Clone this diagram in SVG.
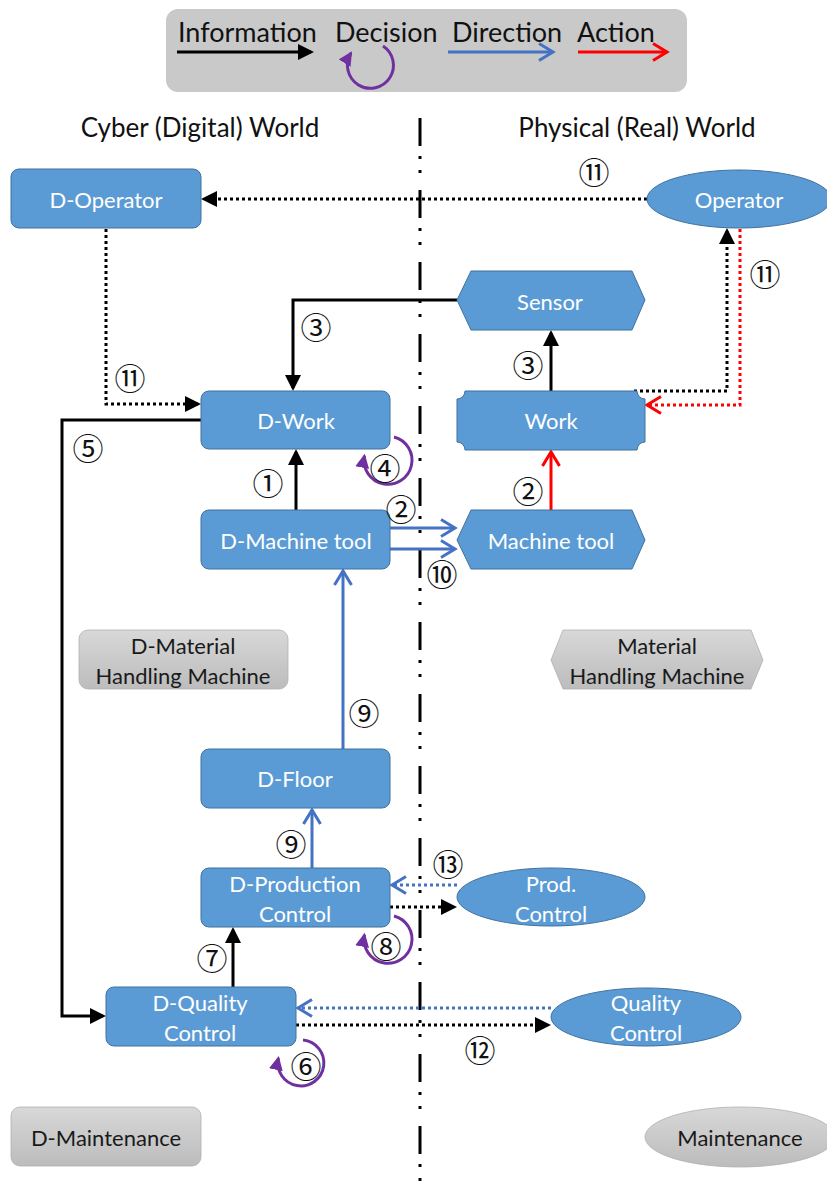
<svg xmlns="http://www.w3.org/2000/svg" width="827" height="1198" viewBox="0 0 827 1198">
  <style>
    .node { fill: #5B9BD5; stroke: #41719C; stroke-width: 1; }
    .gray { fill: url(#grayFill); stroke: #b0b0b0; stroke-width: 0.8; }
    .lbl { font-family: Lato, "Open Sans", sans-serif; font-size: 22px; fill: #ffffff; text-anchor: middle; dominant-baseline: central; }
    .lblk { font-family: Lato, "Open Sans", sans-serif; font-size: 22px; fill: #1a1a1a; text-anchor: middle; dominant-baseline: central; }
    .head { font-family: Lato, "Open Sans", sans-serif; font-size: 26px; fill: #111111; text-anchor: middle; }
    .leg { font-family: Lato, "Open Sans", sans-serif; font-size: 27px; fill: #111111; }
    .num { font-family: "Noto Sans CJK JP", "DejaVu Sans", sans-serif; font-size: 31px; fill: #111111; text-anchor: middle; dominant-baseline: central; }
    .info { fill: none; stroke: #000000; stroke-width: 3; }
    .infoDot { fill: none; stroke: #000000; stroke-width: 3; stroke-dasharray: 3 3; }
    .dir { fill: none; stroke: #4472C4; stroke-width: 3; }
    .dirDot { fill: none; stroke: #4472C4; stroke-width: 3; stroke-dasharray: 3 3; }
    .act { fill: none; stroke: #FF0000; stroke-width: 3; }
    .actDot { fill: none; stroke: #FF0000; stroke-width: 3; stroke-dasharray: 3 3; }
    .dec { fill: none; stroke: #7030A0; stroke-width: 3; }
  </style>
  <defs>
    <linearGradient id="grayFill" x1="0" y1="0" x2="0" y2="1">
      <stop offset="0" stop-color="#d8d8d8"/>
      <stop offset="1" stop-color="#bcbcbc"/>
    </linearGradient>
    <!-- filled head: tip sits 3px beyond the path end -->
    <marker id="headInfo" markerUnits="userSpaceOnUse" markerWidth="18" markerHeight="18" refX="13" refY="8" orient="auto">
      <path d="M0,0 L16,8 L0,16 Z" fill="#000000"/>
    </marker>
    <marker id="headDir" markerUnits="userSpaceOnUse" markerWidth="20" markerHeight="22" refX="16" refY="10" orient="auto">
      <path d="M2,1.5 L16,10 L2,18.5" fill="none" stroke="#4472C4" stroke-width="3"/>
    </marker>
    <marker id="headAct" markerUnits="userSpaceOnUse" markerWidth="20" markerHeight="22" refX="16" refY="10" orient="auto">
      <path d="M2,1.5 L16,10 L2,18.5" fill="none" stroke="#FF0000" stroke-width="3"/>
    </marker>
    <marker id="headDec" markerUnits="userSpaceOnUse" markerWidth="16" markerHeight="16" refX="12" refY="7" orient="auto">
      <path d="M0,0 L14,7 L0,14 Z" fill="#7030A0"/>
    </marker>
  </defs>

  <rect width="827" height="1198" fill="#ffffff"/>

  <!-- legend -->
  <g id="legend">
    <rect x="166" y="9" width="521" height="83" rx="12" fill="#c9c9c9"/>
    <text class="leg" x="178" y="42">Information</text>
    <path class="info" d="M177,52 H311" marker-end="url(#headInfo)"/>
    <text class="leg" x="335" y="42">Decision</text>
    <path class="dec" d="M383,46 A23,23 0 1 1 351,53" marker-end="url(#headDec)"/>
    <text class="leg" x="452" y="42">Direction</text>
    <path class="dir" d="M448,52 H553" marker-end="url(#headDir)"/>
    <text class="leg" x="577" y="42">Action</text>
    <path class="act" d="M578,52 H667" marker-end="url(#headAct)"/>
  </g>

  <!-- world headings and divider -->
  <g id="headings">
    <text class="head" x="200" y="137">Cyber (Digital) World</text>
    <text class="head" x="637" y="137">Physical (Real) World</text>
  </g>
  <path id="divider" d="M420,118 V1198" fill="none" stroke="#000000" stroke-width="3" stroke-dasharray="28 10 3 11 3 17"/>

  <!-- connectors -->
  <g id="connectors">
    <!-- 11: operator information -->
    <path class="infoDot" d="M647,199 H204" marker-end="url(#headInfo)"/>
    <path class="infoDot" d="M106,229 V404 H198" marker-end="url(#headInfo)"/>
    <path class="infoDot" d="M634,391 H727 V231" marker-end="url(#headInfo)"/>
    <path class="actDot" d="M740,229 V405 H647" marker-end="url(#headAct)"/>
    <!-- 3: sensing -->
    <path class="info" d="M457,300 H293 V388" marker-end="url(#headInfo)"/>
    <path class="info" d="M551,391 V333" marker-end="url(#headInfo)"/>
    <!-- 1 -->
    <path class="info" d="M296,510 V452" marker-end="url(#headInfo)"/>
    <!-- 5 -->
    <path class="info" d="M201,420 H62 V1016 H103" marker-end="url(#headInfo)"/>
    <!-- 2 and 10: machine tool direction -->
    <path class="dir" d="M390,528 H455" marker-end="url(#headDir)"/>
    <path class="dir" d="M390,549 H455" marker-end="url(#headDir)"/>
    <path class="act" d="M551,510 V452" marker-end="url(#headAct)"/>
    <!-- 9 -->
    <path class="dir" d="M343,749 V571" marker-end="url(#headDir)"/>
    <path class="dir" d="M312,868 V810" marker-end="url(#headDir)"/>
    <!-- 13 -->
    <path class="dirDot" d="M457,885 H392" marker-end="url(#headDir)"/>
    <path class="infoDot" d="M390,907 H454" marker-end="url(#headInfo)"/>
    <!-- 7 -->
    <path class="info" d="M233,987 V930" marker-end="url(#headInfo)"/>
    <!-- 12 -->
    <path class="dirDot" d="M551,1008 H298" marker-end="url(#headDir)"/>
    <path class="infoDot" d="M296,1025 H548" marker-end="url(#headInfo)"/>
  </g>

  <!-- nodes -->
  <g id="d-operator">
    <rect class="node" x="11" y="169" width="190" height="59" rx="8"/>
    <text class="lbl" x="106" y="199">D-Operator</text>
  </g>
  <g id="operator">
    <ellipse class="node" cx="739" cy="199" rx="92" ry="29"/>
    <text class="lbl" x="739" y="199">Operator</text>
  </g>
  <g id="sensor">
    <polygon class="node" points="457,300 471,271 632,271 645,300 632,330 471,330"/>
    <text class="lbl" x="550" y="301">Sensor</text>
  </g>
  <g id="d-work">
    <rect class="node" x="201" y="391" width="189" height="58" rx="8"/>
    <text class="lbl" x="296" y="420">D-Work</text>
  </g>
  <g id="work">
    <path class="node" d="M465,391 H637 A8,8 0 0 0 645,399 V442 A8,8 0 0 0 637,450 H465 A8,8 0 0 0 457,442 V399 A8,8 0 0 0 465,391 Z"/>
    <text class="lbl" x="551" y="420">Work</text>
  </g>
  <g id="d-machine-tool">
    <rect class="node" x="201" y="510" width="189" height="59" rx="8"/>
    <text class="lbl" x="296" y="540">D-Machine tool</text>
  </g>
  <g id="machine-tool">
    <polygon class="node" points="457,540 471,510 632,510 645,540 632,569 471,569"/>
    <text class="lbl" x="551" y="540">Machine tool</text>
  </g>
  <g id="d-material-handling">
    <rect class="gray" x="79" y="630" width="209" height="59" rx="9"/>
    <text class="lblk" x="183" y="645">D-Material</text>
    <text class="lblk" x="183" y="675">Handling Machine</text>
  </g>
  <g id="material-handling">
    <polygon class="gray" points="551,660 563,630 751,630 763,660 751,689 563,689"/>
    <text class="lblk" x="657" y="645">Material</text>
    <text class="lblk" x="657" y="675">Handling Machine</text>
  </g>
  <g id="d-floor">
    <rect class="node" x="201" y="749" width="189" height="59" rx="8"/>
    <text class="lbl" x="295" y="778">D-Floor</text>
  </g>
  <g id="d-production-control">
    <rect class="node" x="201" y="868" width="189" height="59" rx="8"/>
    <text class="lbl" x="295" y="883">D-Production</text>
    <text class="lbl" x="295" y="913">Control</text>
  </g>
  <g id="prod-control">
    <ellipse class="node" cx="551" cy="897" rx="94" ry="29"/>
    <text class="lbl" x="551" y="883">Prod.</text>
    <text class="lbl" x="551" y="913">Control</text>
  </g>
  <g id="d-quality-control">
    <rect class="node" x="106" y="987" width="190" height="59" rx="8"/>
    <text class="lbl" x="200" y="1002">D-Quality</text>
    <text class="lbl" x="200" y="1032">Control</text>
  </g>
  <g id="quality-control">
    <ellipse class="node" cx="646" cy="1017" rx="95" ry="29"/>
    <text class="lbl" x="646" y="1002">Quality</text>
    <text class="lbl" x="646" y="1032">Control</text>
  </g>
  <g id="d-maintenance">
    <rect class="gray" x="11" y="1107" width="190" height="59" rx="9"/>
    <text class="lblk" x="106" y="1137">D-Maintenance</text>
  </g>
  <g id="maintenance">
    <ellipse class="gray" cx="740" cy="1137" rx="95" ry="30"/>
    <text class="lblk" x="740" y="1137">Maintenance</text>
  </g>

  <!-- decision loops -->
  <g id="decisions">
    <path class="dec" d="M394,437 A24,24 0 1 1 364.4,455.8" marker-end="url(#headDec)"/>
    <path class="dec" d="M394,916 A24,24 0 1 1 364.4,934.8" marker-end="url(#headDec)"/>
    <path class="dec" d="M303,1040 A23,23 0 1 1 278.4,1058" marker-end="url(#headDec)"/>
  </g>

  <!-- step numbers -->
  <g id="step-numbers">
    <text class="num" x="594" y="170">⑪</text>
    <text class="num" x="765" y="272">⑪</text>
    <text class="num" x="130" y="376">⑪</text>
    <text class="num" x="316" y="325">③</text>
    <text class="num" x="528" y="363">③</text>
    <text class="num" x="88" y="446">⑤</text>
    <text class="num" x="385" y="466">④</text>
    <text class="num" x="268" y="481">①</text>
    <text class="num" x="401" y="507">②</text>
    <text class="num" x="528" y="489">②</text>
    <text class="num" x="442" y="572">⑩</text>
    <text class="num" x="364" y="711">⑨</text>
    <text class="num" x="291" y="842">⑨</text>
    <text class="num" x="448" y="862">⑬</text>
    <text class="num" x="386" y="944">⑧</text>
    <text class="num" x="212" y="956">⑦</text>
    <text class="num" x="306" y="1064">⑥</text>
    <text class="num" x="480" y="1048">⑫</text>
  </g>
</svg>
